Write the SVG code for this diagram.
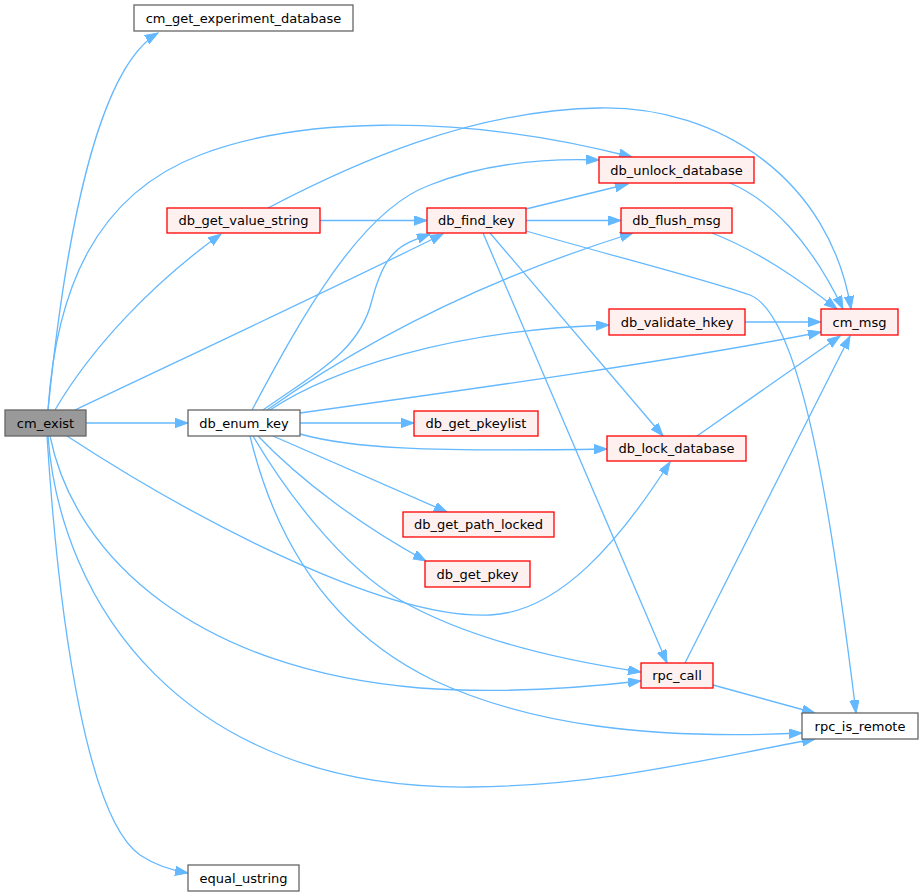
<svg xmlns="http://www.w3.org/2000/svg" width="923" height="896" viewBox="0 0 923 896">
<style>
.n rect{stroke-width:1.3}
.w rect{fill:#ffffff;stroke:#666666}
.r rect{fill:#fff0f0;stroke:#ff0000}
.g rect{fill:#999999;stroke:#666666}
.n text{font-family:"DejaVu Sans","Liberation Sans",sans-serif;font-size:13px;fill:#000000;text-anchor:middle}
#edges path{fill:none;stroke:#63b8ff;stroke-width:1.3;marker-end:url(#ah)}
</style>
<defs>
<marker id="ah" markerUnits="userSpaceOnUse" markerWidth="14" markerHeight="10" refX="13" refY="4.7" orient="auto">
<path d="M0,0 L13,4.7 L0,9.4 z" fill="#63b8ff" stroke="#63b8ff" stroke-width="1"/>
</marker>
</defs>
<rect width="923" height="896" fill="#ffffff"/>
<g id="edges">
<path d="M48,410 C64,250 95,70 158,33"/>
<path d="M48,410 C56,290 95,195 200,155 C290,120 450,110 632,157"/>
<path d="M268,208 C350,165 470,110 600,108 C720,106 830,180 851,309"/>
<path d="M55,410 C90,350 150,285 221,234"/>
<path d="M75,410 C180,360 330,290 443,234"/>
<path d="M86,423 L188,423"/>
<path d="M320,220.5 L427,220.5"/>
<path d="M252,410 C300,320 360,210 430,185 C480,165 540,158 599,160"/>
<path d="M263,410 C320,370 360,350 372,300 C385,250 400,245 430,234"/>
<path d="M267,410 C330,365 450,290 633,233"/>
<path d="M270,410 C330,370 450,330 609,325"/>
<path d="M300,413 C480,388 680,360 821,332"/>
<path d="M300,423 L414,423"/>
<path d="M300,434 C350,448 420,452 607,449"/>
<path d="M273,436 L447,512"/>
<path d="M258,436 C300,480 360,525 426,561"/>
<path d="M253,436 C285,490 340,565 400,600 C470,640 560,660 641,672"/>
<path d="M250,436 C275,540 330,630 433,680 C530,725 650,740 802,733"/>
<path d="M67,436 C180,510 380,620 490,615 C560,612 620,540 670,462"/>
<path d="M50,436 C75,560 200,670 420,688 C500,694 580,688 641,681"/>
<path d="M48,436 C60,600 180,790 470,787 C600,786 700,760 815,739"/>
<path d="M47,436 C60,640 90,820 140,855 C155,865 170,870 188,873"/>
<path d="M526,209 L628,184"/>
<path d="M526,220.5 L621,220.5"/>
<path d="M526,231 C620,258 700,278 750,295 C800,315 830,500 856,713"/>
<path d="M490,233 L663,436"/>
<path d="M483,233 L667,663"/>
<path d="M730,183 C770,200 810,240 843,309"/>
<path d="M712,233 C760,252 800,280 837,309"/>
<path d="M745,322 L821,322"/>
<path d="M697,436 L840,336"/>
<path d="M685,663 L850,336"/>
<path d="M713,685 L815,713"/>
</g>
<g id="cm_get_experiment_database" class="n w"><rect x="134" y="5" width="219" height="26"/><text x="243.5" y="22.5">cm_get_experiment_database</text></g>
<g id="db_get_value_string" class="n r"><rect x="167" y="208" width="153" height="25"/><text x="243.5" y="225">db_get_value_string</text></g>
<g id="cm_exist" class="n g"><rect x="5" y="410" width="81" height="26"/><text x="45.5" y="427.5">cm_exist</text></g>
<g id="db_enum_key" class="n w"><rect x="188" y="410" width="112" height="26"/><text x="244" y="427.5">db_enum_key</text></g>
<g id="db_find_key" class="n r"><rect x="427" y="208" width="99" height="25"/><text x="476.5" y="225">db_find_key</text></g>
<g id="db_unlock_database" class="n r"><rect x="599" y="157" width="155" height="26"/><text x="676.5" y="174.5">db_unlock_database</text></g>
<g id="db_flush_msg" class="n r"><rect x="621" y="208" width="111" height="25"/><text x="676.5" y="225">db_flush_msg</text></g>
<g id="db_validate_hkey" class="n r"><rect x="609" y="309" width="136" height="26"/><text x="677" y="326.5">db_validate_hkey</text></g>
<g id="cm_msg" class="n r"><rect x="821" y="309" width="77" height="26"/><text x="859.5" y="326.5">cm_msg</text></g>
<g id="db_get_pkeylist" class="n r"><rect x="414" y="411" width="124" height="25"/><text x="476" y="428">db_get_pkeylist</text></g>
<g id="db_lock_database" class="n r"><rect x="607" y="436" width="139" height="25"/><text x="676.5" y="453">db_lock_database</text></g>
<g id="db_get_path_locked" class="n r"><rect x="403" y="512" width="151" height="25"/><text x="478.5" y="529">db_get_path_locked</text></g>
<g id="db_get_pkey" class="n r"><rect x="425" y="561" width="105" height="26"/><text x="477.5" y="578.5">db_get_pkey</text></g>
<g id="rpc_call" class="n r"><rect x="641" y="663" width="72" height="25"/><text x="677" y="680">rpc_call</text></g>
<g id="rpc_is_remote" class="n w"><rect x="802" y="713" width="116" height="26"/><text x="860" y="730.5">rpc_is_remote</text></g>
<g id="equal_ustring" class="n w"><rect x="188" y="865" width="111" height="26"/><text x="243.5" y="882.5">equal_ustring</text></g>
</svg>
